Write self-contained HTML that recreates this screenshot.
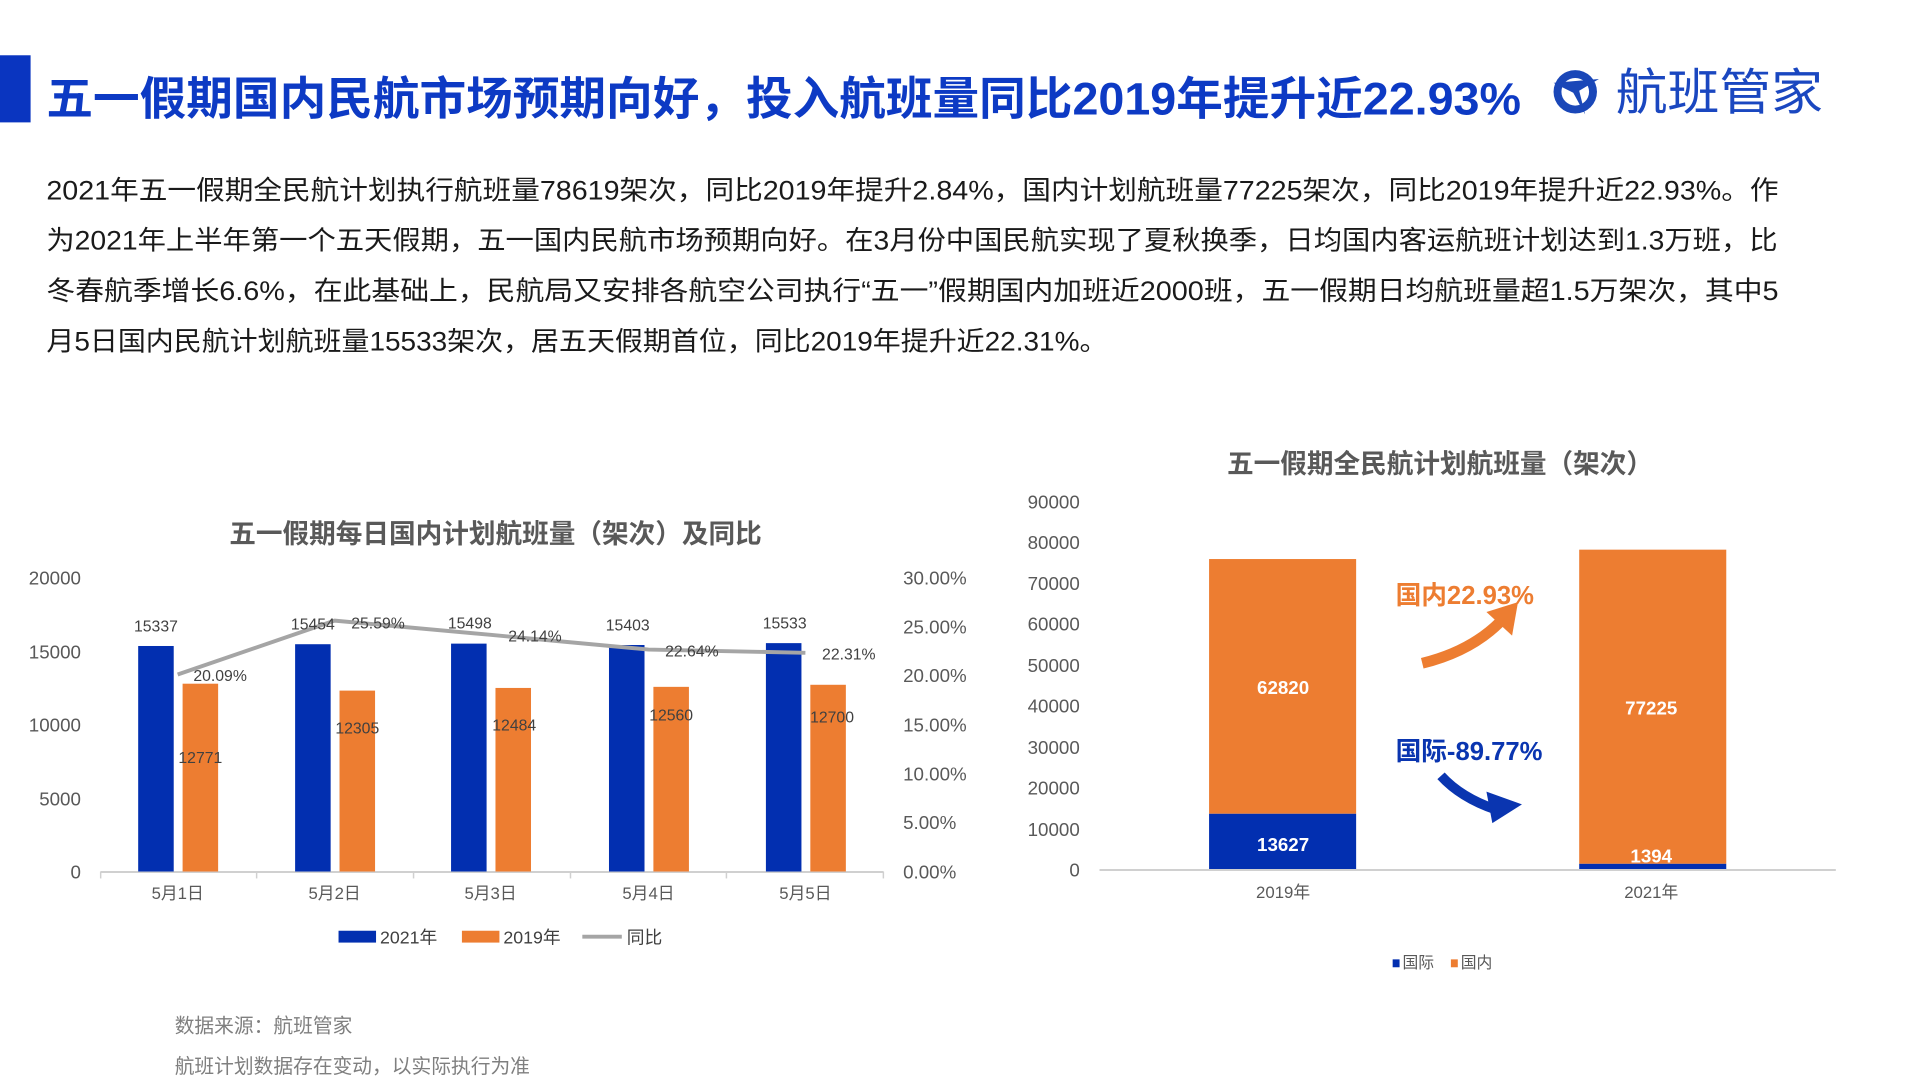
<!DOCTYPE html>
<html><head><meta charset="utf-8"><style>
html,body{margin:0;padding:0;background:#fff;}
svg{display:block;font-family:"Liberation Sans","Noto Sans CJK SC",sans-serif;}
</style></head><body>
<svg width="1920" height="1080" viewBox="0 0 1920 1080" xmlns="http://www.w3.org/2000/svg">
<g transform="scale(0.987)">
<rect x="0" y="56" width="31" height="68" fill="#0a35c0"/>
<text x="47" y="116" font-size="46" font-weight="bold" fill="#0d3ac4" textLength="1494" lengthAdjust="spacingAndGlyphs">五一假期国内民航市场预期向好，投入航班量同比2019年提升近22.93%</text>
<!-- logo -->
<circle cx="1596" cy="93" r="22" fill="#1a47b8"/>
<circle cx="1596" cy="93" r="14" fill="#fff"/>
<path d="M1574 84 L1620 80 L1600 92 L1606 116 L1594 94 Z" fill="#1a47b8"/>
<text x="1637" y="111" font-size="50" fill="#1a47c0" textLength="210" lengthAdjust="spacingAndGlyphs">航班管家</text>
<g font-size="27" fill="#1a1a1a">
<text x="47" y="202" textLength="1755" lengthAdjust="spacingAndGlyphs">2021年五一假期全民航计划执行航班量78619架次，同比2019年提升2.84%，国内计划航班量77225架次，同比2019年提升近22.93%。作</text>
<text x="47" y="253" textLength="1754" lengthAdjust="spacingAndGlyphs">为2021年上半年第一个五天假期，五一国内民航市场预期向好。在3月份中国民航实现了夏秋换季，日均国内客运航班计划达到1.3万班，比</text>
<text x="47" y="304" textLength="1755" lengthAdjust="spacingAndGlyphs">冬春航季增长6.6%，在此基础上，民航局又安排各航空公司执行“五一”假期国内加班近2000班，五一假期日均航班量超1.5万架次，其中5</text>
<text x="47" y="355" textLength="1075" lengthAdjust="spacingAndGlyphs">月5日国内民航计划航班量15533架次，居五天假期首位，同比2019年提升近22.31%。</text>
</g>
<!-- left chart -->
<text x="502" y="550" font-size="27" font-weight="bold" fill="#595959" text-anchor="middle">五一假期每日国内计划航班量（架次）及同比</text>
<g font-size="19" fill="#595959" text-anchor="end">
<text x="82" y="592">20000</text><text x="82" y="667">15000</text><text x="82" y="741">10000</text><text x="82" y="816">5000</text><text x="82" y="890">0</text>
</g>
<g font-size="19" fill="#595959">
<text x="915" y="592">30.00%</text><text x="915" y="642">25.00%</text><text x="915" y="691">20.00%</text><text x="915" y="741">15.00%</text><text x="915" y="791">10.00%</text><text x="915" y="840">5.00%</text><text x="915" y="890">0.00%</text>
</g>
<line x1="102" y1="883.5" x2="895" y2="883.5" stroke="#d0d0d0" stroke-width="2"/>
<g stroke="#d0d0d0" stroke-width="1.5"><line x1="102" y1="883" x2="102" y2="890"/><line x1="260" y1="883" x2="260" y2="890"/><line x1="419" y1="883" x2="419" y2="890"/><line x1="578" y1="883" x2="578" y2="890"/><line x1="736" y1="883" x2="736" y2="890"/><line x1="895" y1="883" x2="895" y2="890"/></g>
<g fill="#022fb0">
<rect x="140" y="654.5" width="36" height="228.5"/>
<rect x="299" y="652.7" width="36" height="230.3"/>
<rect x="457" y="652.1" width="36" height="230.9"/>
<rect x="617" y="653.5" width="36" height="229.5"/>
<rect x="776" y="651.6" width="36" height="231.4"/>
</g>
<g fill="#ed7d31">
<rect x="185" y="692.7" width="36" height="190.3"/>
<rect x="344" y="699.7" width="36" height="183.3"/>
<rect x="502" y="697" width="36" height="186"/>
<rect x="662" y="695.9" width="36" height="187.1"/>
<rect x="821" y="693.8" width="36" height="189.2"/>
</g>
<polyline points="180,683.4 339,628.8 497,643.2 657,658.1 816,661.4" fill="none" stroke="#a5a5a5" stroke-width="4" stroke-linejoin="round"/>
<g font-size="16" fill="#404040" text-anchor="middle">
<text x="158" y="640">15337</text><text x="317" y="638">15454</text><text x="476" y="637">15498</text><text x="636" y="639">15403</text><text x="795" y="637">15533</text>
<text x="203" y="773">12771</text><text x="362" y="743">12305</text><text x="521" y="740">12484</text><text x="680" y="730">12560</text><text x="843" y="732">12700</text>
<text x="223" y="690">20.09%</text><text x="383" y="637">25.59%</text><text x="542" y="650">24.14%</text><text x="701" y="665">22.64%</text><text x="860" y="668">22.31%</text>
</g>
<g font-size="17" fill="#595959" text-anchor="middle">
<text x="180" y="911">5月1日</text><text x="339" y="911">5月2日</text><text x="497" y="911">5月3日</text><text x="657" y="911">5月4日</text><text x="816" y="911">5月5日</text>
</g>
<rect x="343" y="943" width="38" height="12" fill="#022fb0"/>
<text x="385" y="956" font-size="18" fill="#404040">2021年</text>
<rect x="468" y="943" width="38" height="12" fill="#ed7d31"/>
<text x="510" y="956" font-size="18" fill="#404040">2019年</text>
<line x1="590" y1="949" x2="630" y2="949" stroke="#a5a5a5" stroke-width="4"/>
<text x="635" y="956" font-size="18" fill="#404040">同比</text>
<text x="177" y="1046" font-size="20" fill="#7f7f7f">数据来源：航班管家</text>
<text x="177" y="1087" font-size="20" fill="#7f7f7f">航班计划数据存在变动，以实际执行为准</text>
<!-- right chart -->
<text x="1459" y="479" font-size="27" font-weight="bold" fill="#595959" text-anchor="middle">五一假期全民航计划航班量（架次）</text>
<g font-size="19" fill="#595959" text-anchor="end">
<text x="1094" y="515">90000</text><text x="1094" y="556">80000</text><text x="1094" y="598">70000</text><text x="1094" y="639">60000</text><text x="1094" y="681">50000</text><text x="1094" y="722">40000</text><text x="1094" y="764">30000</text><text x="1094" y="805">20000</text><text x="1094" y="847">10000</text><text x="1094" y="888">0</text>
</g>
<rect x="1225" y="566.4" width="149" height="258.1" fill="#ed7d31"/>
<rect x="1225" y="824.5" width="149" height="56.5" fill="#022fb0"/>
<rect x="1600" y="556.9" width="149" height="318.3" fill="#ed7d31"/>
<rect x="1600" y="875.2" width="149" height="5.8" fill="#022fb0"/>
<line x1="1114" y1="881.5" x2="1860" y2="881.5" stroke="#d0d0d0" stroke-width="2"/>
<g font-size="19" font-weight="bold" fill="#fff" text-anchor="middle">
<text x="1300" y="703">62820</text><text x="1300" y="862">13627</text><text x="1673" y="724">77225</text><text x="1673" y="874">1394</text>
</g>
<g font-size="17" fill="#595959" text-anchor="middle"><text x="1300" y="910">2019年</text><text x="1673" y="910">2021年</text></g>
<text x="1414" y="612" font-size="26" font-weight="bold" fill="#ed7d31">国内22.93%</text>
<text x="1414" y="770" font-size="26" font-weight="bold" fill="#0a35b0">国际-89.77%</text>
<path d="M1441 672 Q1490 660 1520 630" fill="none" stroke="#ed7d31" stroke-width="11"/>
<polygon points="1506,620 1538,610 1532,644" fill="#ed7d31"/>
<path d="M1460 786 Q1480 808 1515 820" fill="none" stroke="#0a35b0" stroke-width="10"/>
<polygon points="1506,802 1542,815 1512,834" fill="#0a35b0"/>
<rect x="1411" y="972" width="7" height="8" fill="#022fb0"/>
<text x="1421" y="981" font-size="16" fill="#595959">国际</text>
<rect x="1470" y="972" width="7" height="8" fill="#ed7d31"/>
<text x="1480" y="981" font-size="16" fill="#595959">国内</text>
</g>
</svg>
</body></html>
